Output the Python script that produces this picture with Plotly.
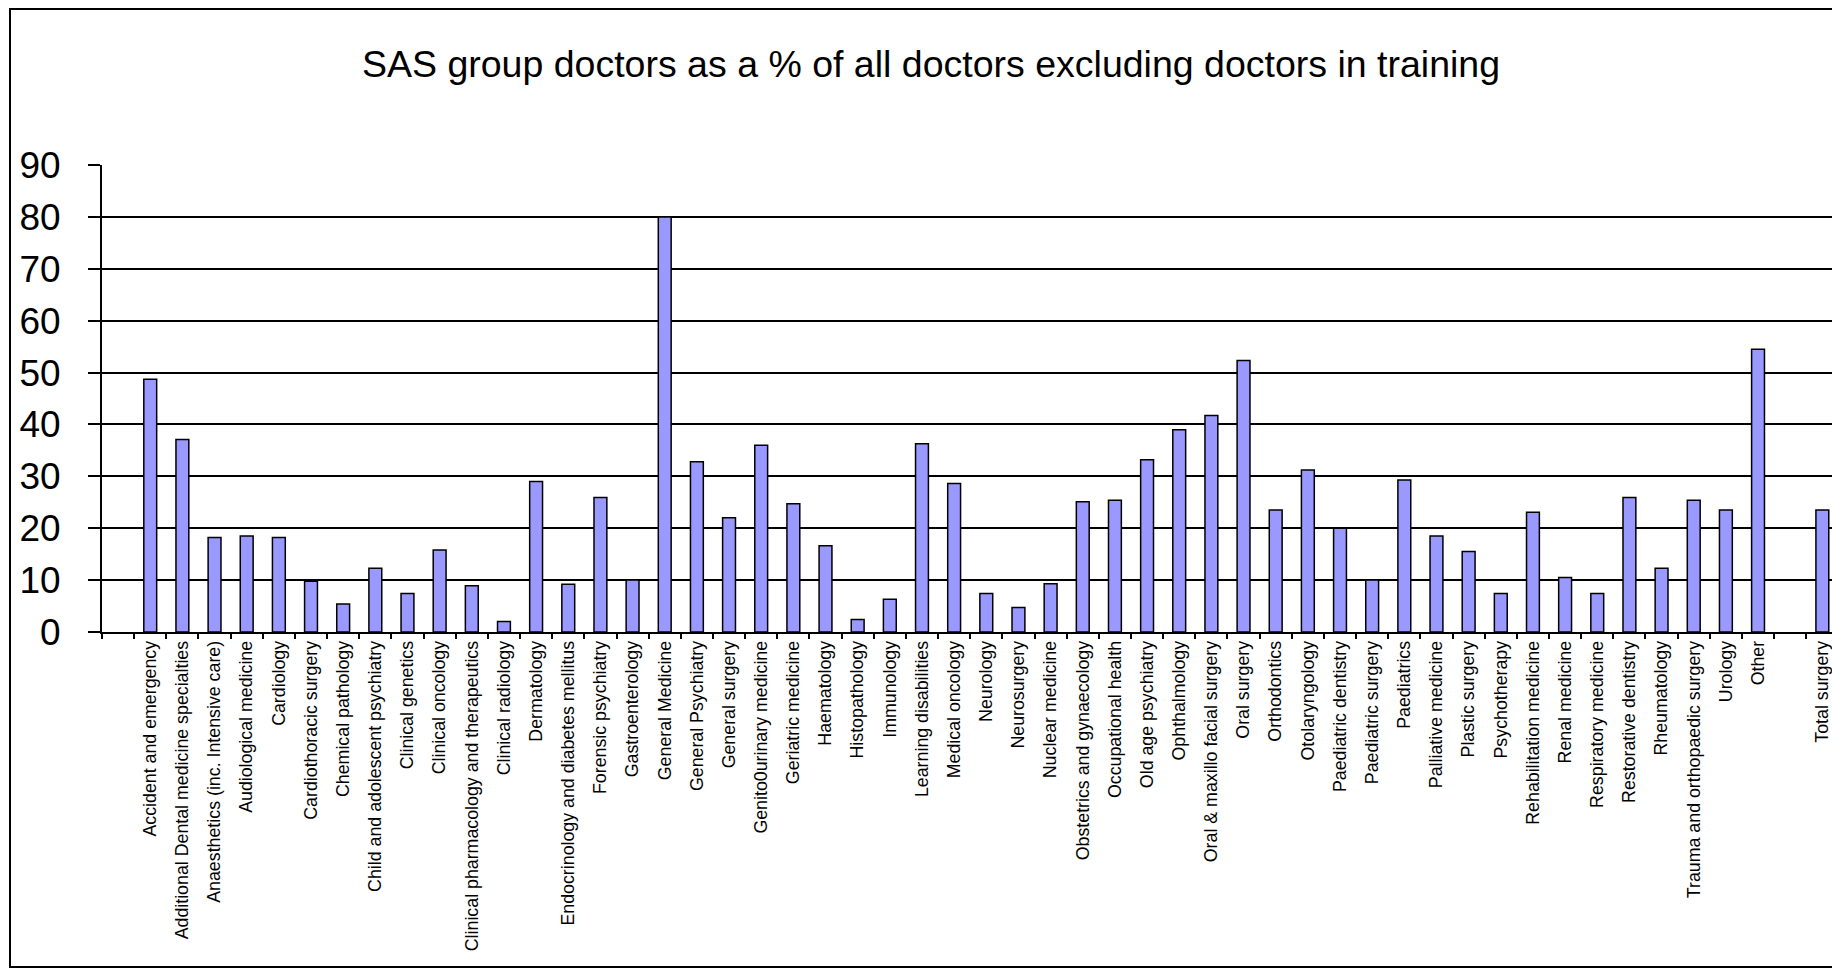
import plotly.graph_objects as go

categories = [
    " ",
    "Accident and emergency",
    "Additional Dental medicine specialties",
    "Anaesthetics (inc. Intensive care)",
    "Audiological medicine",
    "Cardiology",
    "Cardiothoracic surgery",
    "Chemical pathology",
    "Child and adolescent psychiatry",
    "Clinical genetics",
    "Clinical oncology",
    "Clinical pharmacology and therapeutics",
    "Clinical radiology",
    "Dermatology",
    "Endocrinology and diabetes mellitus",
    "Forensic psychiatry",
    "Gastroenterology",
    "General Medicine",
    "General Psychiatry",
    "General surgery",
    "Genito0urinary medicine",
    "Geriatric medicine",
    "Haematology",
    "Histopathology",
    "Immunology",
    "Learning disabilities",
    "Medical oncology",
    "Neurology",
    "Neurosurgery",
    "Nuclear medicine",
    "Obstetrics and gynaecology",
    "Occupational health",
    "Old age psychiatry",
    "Ophthalmology",
    "Oral & maxillo facial surgery",
    "Oral surgery",
    "Orthodontics",
    "Otolaryngology",
    "Paediatric dentistry",
    "Paediatric surgery",
    "Paediatrics",
    "Palliative medicine",
    "Plastic surgery",
    "Psychotherapy",
    "Rehabilitation medicine",
    "Renal medicine",
    "Respiratory medicine",
    "Restorative dentistry",
    "Rheumatology",
    "Trauma and orthopaedic surgery",
    "Urology",
    "Other",
    "  ",
    "Total surgery",
]

values = [
    None,
    48.7, 37.1, 18.2, 18.5, 18.2, 9.8, 5.4, 12.3, 7.4, 15.8,
    8.9, 2.0, 29.0, 9.2, 25.9, 10.0, 80.0, 32.8, 22.0, 36.0,
    24.7, 16.6, 2.4, 6.3, 36.3, 28.6, 7.4, 4.7, 9.3, 25.1,
    25.4, 33.2, 39.0, 41.7, 52.3, 23.5, 31.2, 20.0, 10.0, 29.3,
    18.5, 15.5, 7.4, 23.1, 10.5, 7.4, 25.9, 12.3, 25.4, 23.5,
    54.5,
    None,
    23.5,
]

y_ticks = [0, 10, 20, 30, 40, 50, 60, 70, 80, 90]
title_text = "SAS group doctors as a % of all doctors excluding doctors in training"

FONT = "Liberation Sans, Arial, sans-serif"
W, H = 1832, 970
L, R, T, B = 102, 0, 165, 338
PW, PH = W - L - R, H - T - B

fig = go.Figure(
    go.Bar(
        x=categories,
        y=values,
        marker=dict(color="#9999FF", line=dict(color="black", width=1.5)),
        hoverinfo="x+y",
    )
)


def px_x(p):
    return (p - L) / PW


def px_y(p):
    return (H - B - p) / PH


fig.update_layout(
    template="none",
    width=W,
    height=H,
    autosize=False,
    margin=dict(l=L, r=R, t=T, b=B, pad=0),
    paper_bgcolor="white",
    plot_bgcolor="white",
    showlegend=False,
    bargap=0.6,
    font=dict(family=FONT, color="black"),
    title=dict(
        text=title_text,
        font=dict(family=FONT, size=37.5, color="black"),
        x=931 / W,
        xref="container",
        xanchor="center",
        y=1 - 64 / H,
        yref="container",
        yanchor="middle",
    ),
    xaxis=dict(
        type="category",
        categoryorder="array",
        categoryarray=categories,
        range=[-0.5, 53.3],
        tickangle=-90,
        tickfont=dict(family=FONT, size=17.8, color="black"),
        ticks="outside",
        tickson="boundaries",
        ticklen=5,
        tickwidth=1.5,
        tickcolor="black",
        showline=True,
        linecolor="black",
        linewidth=1.5,
        showgrid=False,
        zeroline=False,
        automargin=False,
        fixedrange=True,
    ),
    yaxis=dict(
        range=[0, 90],
        tickvals=y_ticks,
        ticktext=[str(v) + "\u00a0" for v in y_ticks],
        tickfont=dict(family=FONT, size=37, color="black"),
        ticks="outside",
        ticklen=12,
        tickwidth=1.5,
        tickcolor="black",
        ticklabelstandoff=10,
        showline=True,
        linecolor="black",
        linewidth=1.5,
        showgrid=True,
        gridcolor="black",
        gridwidth=1.5,
        zeroline=False,
        automargin=False,
        fixedrange=True,
    ),
    shapes=[
        dict(
            type="rect",
            xref="paper",
            yref="paper",
            x0=px_x(10),
            x1=px_x(1845),
            y0=px_y(967),
            y1=px_y(9),
            line=dict(color="black", width=2),
            fillcolor="rgba(0,0,0,0)",
            layer="above",
        )
    ],
)

fig.write_html(
    "out.html",
    config={"displayModeBar": False},
    post_script="document.body.style.margin='0';document.body.style.overflow='hidden';",
)
